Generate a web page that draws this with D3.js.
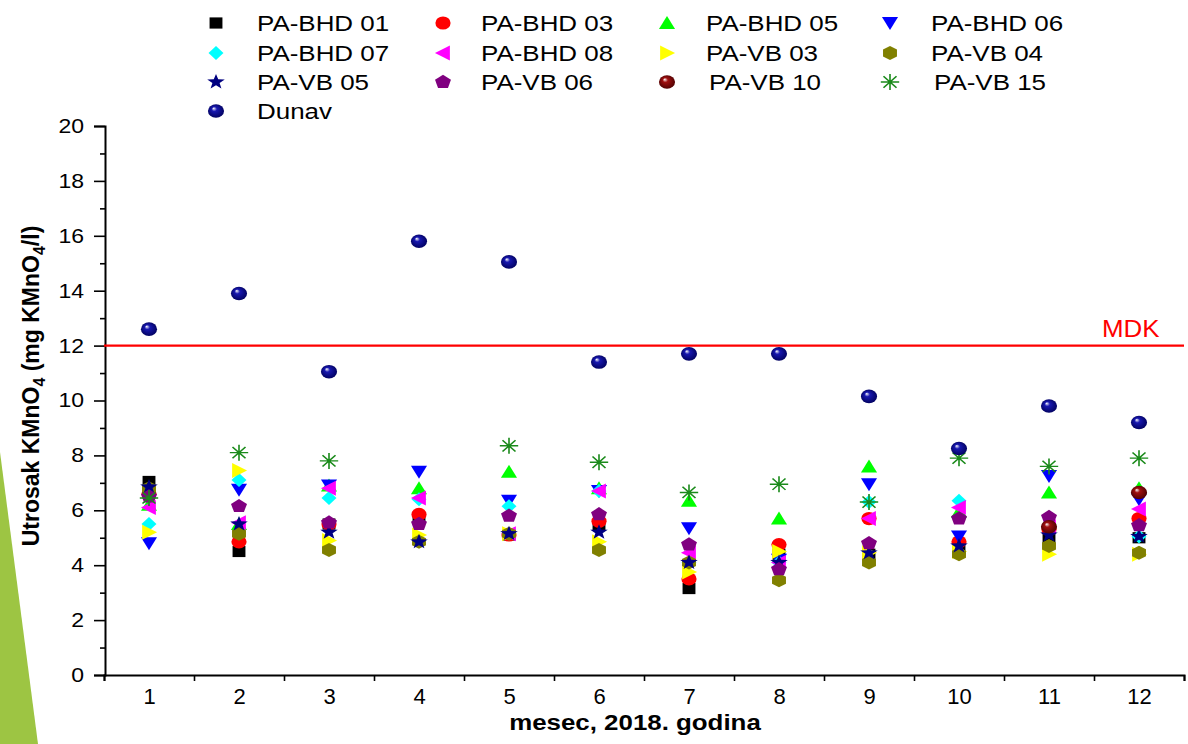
<!DOCTYPE html>
<html>
<head>
<meta charset="utf-8">
<script src="https://cdn.jsdelivr.net/npm/d3@7"></script>
<style>
  body { margin: 0; background: #fff; }
  text { font-family: "Liberation Sans", Arial, sans-serif; }
</style>
</head>
<body>
<div id="chart"></div>
<script>
// months on the x axis
var months = [1, 2, 3, 4, 5, 6, 7, 8, 9, 10, 11, 12]
var yTicks = [0, 2, 4, 6, 8, 10, 12, 14, 16, 18, 20]
var mdk = 12

// values (mg KMnO4/l), null = not shown
var bhd01 = [7.05, 4.5, 5.5, 5.7, 5.1, 5.45, 3.15, 4.4, 4.4, 4.6, 5.0, 5.0]
var bhd03 = [6.6, 4.85, 5.5, 5.85, 5.1, 5.6, 3.5, 4.75, 5.7, 4.85, 5.3, 5.7]
var bhd05 = [6.2, 5.5, 6.9, 6.8, 7.4, 6.8, 6.35, 5.7, 7.6, 5.95, 6.65, 6.8]
var bhd06 = [4.8, 6.75, 6.9, 7.4, 6.35, 6.7, 5.35, 4.2, 6.95, 5.05, 7.25, 6.4]
var bhd07 = [5.5, 7.1, 6.45, 6.4, 6.15, 6.7, 4.1, 4.1, 6.3, 6.35, 5.4, 5.05]
var bhd08 = [6.1, 5.55, 6.8, 6.45, 5.15, 6.7, 4.45, 4.1, 5.7, 6.1, 5.4, 6.05]
var vb03 = [5.2, 7.45, 4.9, 5.1, 5.15, 4.85, 3.75, 4.5, 4.45, 4.5, 4.4, 4.4]
var vb04 = [6.8, 5.15, 4.55, 4.85, 5.15, 4.55, 4.1, 3.45, 4.1, 4.4, 4.7, 4.45]
var vb05 = [6.85, 5.5, 5.2, 4.85, 5.15, 5.2, 4.1, 4.1, 4.45, 4.7, 5.1, 5.05]
var vb06 = [6.5, 6.15, 5.55, 5.5, 5.8, 5.85, 4.75, 3.85, 4.8, 5.7, 5.75, 5.45]
var vb10 = [null, null, null, null, null, null, null, null, null, null, 5.4, 6.65]
var vb15 = [6.45, 8.1, 7.8, null, 8.35, 7.75, 6.65, 6.95, 6.3, 7.9, 7.6, 7.9]
var dunav = [12.6, 13.9, 11.05, 15.8, 15.05, 11.4, 11.7, 11.7, 10.15, 8.25, 9.8, 9.2]

var names = ["PA-BHD 01", "PA-BHD 03", "PA-BHD 05", "PA-BHD 06", "PA-BHD 07", "PA-BHD 08",
  "PA-VB 03", "PA-VB 04", "PA-VB 05", "PA-VB 06", "PA-VB 10", "PA-VB 15", "Dunav"]

var series = [
  {name: names[0], values: bhd01, shape: "square", color: "#000000"},
  {name: names[1], values: bhd03, shape: "circle", color: "#ff0000"},
  {name: names[2], values: bhd05, shape: "up", color: "#00ff00"},
  {name: names[3], values: bhd06, shape: "down", color: "#0000ff"},
  {name: names[4], values: bhd07, shape: "diamond", color: "#00ffff"},
  {name: names[5], values: bhd08, shape: "left", color: "#ff00ff"},
  {name: names[6], values: vb03, shape: "right", color: "#ffff00"},
  {name: names[7], values: vb04, shape: "hexagon", color: "#808000"},
  {name: names[8], values: vb05, shape: "star", color: "#000080"},
  {name: names[9], values: vb06, shape: "pentagon", color: "#800080"},
  {name: names[10], values: vb10, shape: "sphere", color: "#800000"},
  {name: names[11], values: vb15, shape: "asterisk", color: "#1a8a1a"},
  {name: names[12], values: dunav, shape: "sphere", color: "#0a0a96"}
]

var width = 1188, height = 744
var SX = 1.15 // the picture is a bit wider than tall

var svg = d3.select("#chart").append("svg")
  .attr("width", width)
  .attr("height", height)

svg.append("rect").attr("width", width).attr("height", height).attr("fill", "#fff")

// decorative green wedge on the left edge
svg.append("path")
  .attr("d", "M0,452L38,744L0,744Z")
  .attr("fill", "#9dc543")

var defs = svg.append("defs")
function sphereGrad(id, mid, dark) {
  var g = defs.append("radialGradient").attr("id", id)
    .attr("cx", "50%").attr("cy", "50%").attr("r", "55%")
    .attr("fx", "35%").attr("fy", "30%")
  g.append("stop").attr("offset", "0%").attr("stop-color", "#ffffff")
  g.append("stop").attr("offset", "30%").attr("stop-color", mid)
  g.append("stop").attr("offset", "100%").attr("stop-color", dark)
}
sphereGrad("g-vb10", "#a01010", "#4a0000")
sphereGrad("g-dunav", "#1818b0", "#00005a")

var x = d3.scaleLinear().domain([0.5, 12.5]).range([104, 1184])
var y = d3.scaleLinear().domain([0, 20]).range([675, 126])

// marker outline around 0,0
function poly(n, r, rot) {
  var p = []
  for (var i = 0; i < n; i++) {
    var a = rot + i * 2 * Math.PI / n
    p.push([r * Math.cos(a), r * Math.sin(a)])
  }
  return "M" + p.join("L") + "Z"
}
function shapePath(shape) {
  switch (shape) {
    case "square": return "M-5.6,-5.6H5.6V5.6H-5.6Z"
    case "circle": return "M-6.6,0A6.6,6.6 0 1 0 6.6,0A6.6,6.6 0 1 0 -6.6,0Z"
    case "sphere": return "M-7,0A7,6.8 0 1 0 7,0A7,6.8 0 1 0 -7,0Z"
    case "up": return "M0,-7L7,6L-7,6Z"
    case "down": return "M0,7L7,-6L-7,-6Z"
    case "diamond": return "M0,-7L6.5,0L0,7L-6.5,0Z"
    case "left": return "M-7,0L6,-7.5L6,7.5Z"
    case "right": return "M7,0L-6,-7.5L-6,7.5Z"
    case "hexagon": return poly(6, 7, -Math.PI / 2)
    case "pentagon": return poly(5, 7.3, -Math.PI / 2)
    case "star":
      var p = []
      for (var i = 0; i < 10; i++) {
        var r = i % 2 ? 3.3 : 8
        var a = -Math.PI / 2 + i * Math.PI / 5
        p.push([r * Math.cos(a), r * Math.sin(a)])
      }
      return "M" + p.join("L") + "Z"
    case "asterisk":
      var s = ""
      for (var k = 0; k < 4; k++) {
        var a2 = k * Math.PI / 4
        s += "M" + (-8 * Math.cos(a2)) + "," + (-8 * Math.sin(a2)) + "L" + (8 * Math.cos(a2)) + "," + (8 * Math.sin(a2))
      }
      return s
  }
}
function drawMarker(sel, d) {
  var p = sel.append("path").attr("d", shapePath(d.shape))
  if (d.shape == "asterisk") {
    p.attr("fill", "none").attr("stroke", d.color).attr("stroke-width", 1.4)
  } else if (d.shape == "sphere") {
    p.attr("fill", d.name == "Dunav" ? "url(#g-dunav)" : "url(#g-vb10)")
  } else {
    p.attr("fill", d.color)
  }
}

// axes
var yAxis = d3.axisLeft(y).tickValues(yTicks).tickSize(11).tickPadding(10)
var gy = svg.append("g").attr("transform", "translate(105,0)").call(yAxis)
gy.selectAll("text")
  .attr("x", -21 / SX)
  .attr("transform", "scale(" + SX + ",1)")
  .style("font-size", "20px")
  .attr("fill", "#000")
var gyMinor = svg.append("g").attr("transform", "translate(105,0)")
  .call(d3.axisLeft(y).tickValues(d3.range(1, 20, 2)).tickSize(5).tickFormat(""))
gyMinor.select(".domain").remove()

var gx = svg.append("g").attr("transform", "translate(0,675)")
  .call(d3.axisBottom(x).tickValues(d3.range(0.5, 13, 1)).tickSize(6).tickFormat(""))
var gxLab = svg.append("g").attr("transform", "translate(0,675)")
  .call(d3.axisBottom(x).tickValues(months).tickSize(0).tickPadding(13).tickFormat(d3.format("d")))
gxLab.select(".domain").remove()
gxLab.selectAll("text").style("font-size", "22px").attr("fill", "#000")

svg.selectAll(".domain").attr("stroke", "#000").attr("stroke-width", 2)
svg.selectAll(".tick line").attr("stroke", "#000").attr("stroke-width", 1.6)

// MDK line
svg.append("line")
  .attr("x1", x(0.5)).attr("x2", x(12.5))
  .attr("y1", y(mdk)).attr("y2", y(mdk))
  .attr("stroke", "#ff0000").attr("stroke-width", 2.2)
svg.append("text")
  .attr("transform", "translate(1102,337) scale(1.08,1)")
  .attr("fill", "#ff0000")
  .style("font-size", "24px")
  .text("MDK")

// axis titles
svg.append("text")
  .attr("transform", "translate(635,730) scale(" + SX + ",1)")
  .attr("text-anchor", "middle")
  .style("font-size", "22.5px").style("font-weight", "bold")
  .text("mesec, 2018. godina")

var yt = svg.append("text")
  .attr("transform", "translate(39,386) rotate(-90)")
  .attr("text-anchor", "middle")
  .style("font-size", "23px").style("font-weight", "bold")
yt.append("tspan").text("Utrosak KMnO")
yt.append("tspan").attr("dy", 6).style("font-size", "16px").text("4")
yt.append("tspan").attr("dy", -6).text(" (mg KMnO")
yt.append("tspan").attr("dy", 6).style("font-size", "16px").text("4")
yt.append("tspan").attr("dy", -6).text("/l)")

// points
var plot = svg.append("g")
series.forEach(function(s) {
  var pts = months.map(function(m, i) { return {m: m, v: s.values[i]} })
    .filter(function(p) { return p.v != null })
  plot.selectAll(null).data(pts).enter().append("g")
    .attr("transform", function(p) { return "translate(" + x(p.m) + "," + y(p.v) + ") scale(" + SX + ",1)" })
    .each(function() { drawMarker(d3.select(this), s) })
})

// legend, 4 columns
var colMarker = [216, 443, 667, 890]
var colText = [257, 481, 706, 931]
var rowY = [23, 53, 82, 111]
var leg = svg.append("g")
series.forEach(function(s, i) {
  var r = Math.floor(i / 4), c = i % 4
  var g = leg.append("g").attr("transform", "translate(" + colMarker[c] + "," + rowY[r] + ") scale(" + SX + ",1)")
  drawMarker(g, s)
  leg.append("text")
    .attr("transform", "translate(" + (colText[c] + (r == 2 && c > 1 ? 3 : 0)) + "," + (rowY[r] + 8) + ") scale(1.18,1)")
    .style("font-size", "22px")
    .text(s.name)
})
</script>
</body>
</html>
